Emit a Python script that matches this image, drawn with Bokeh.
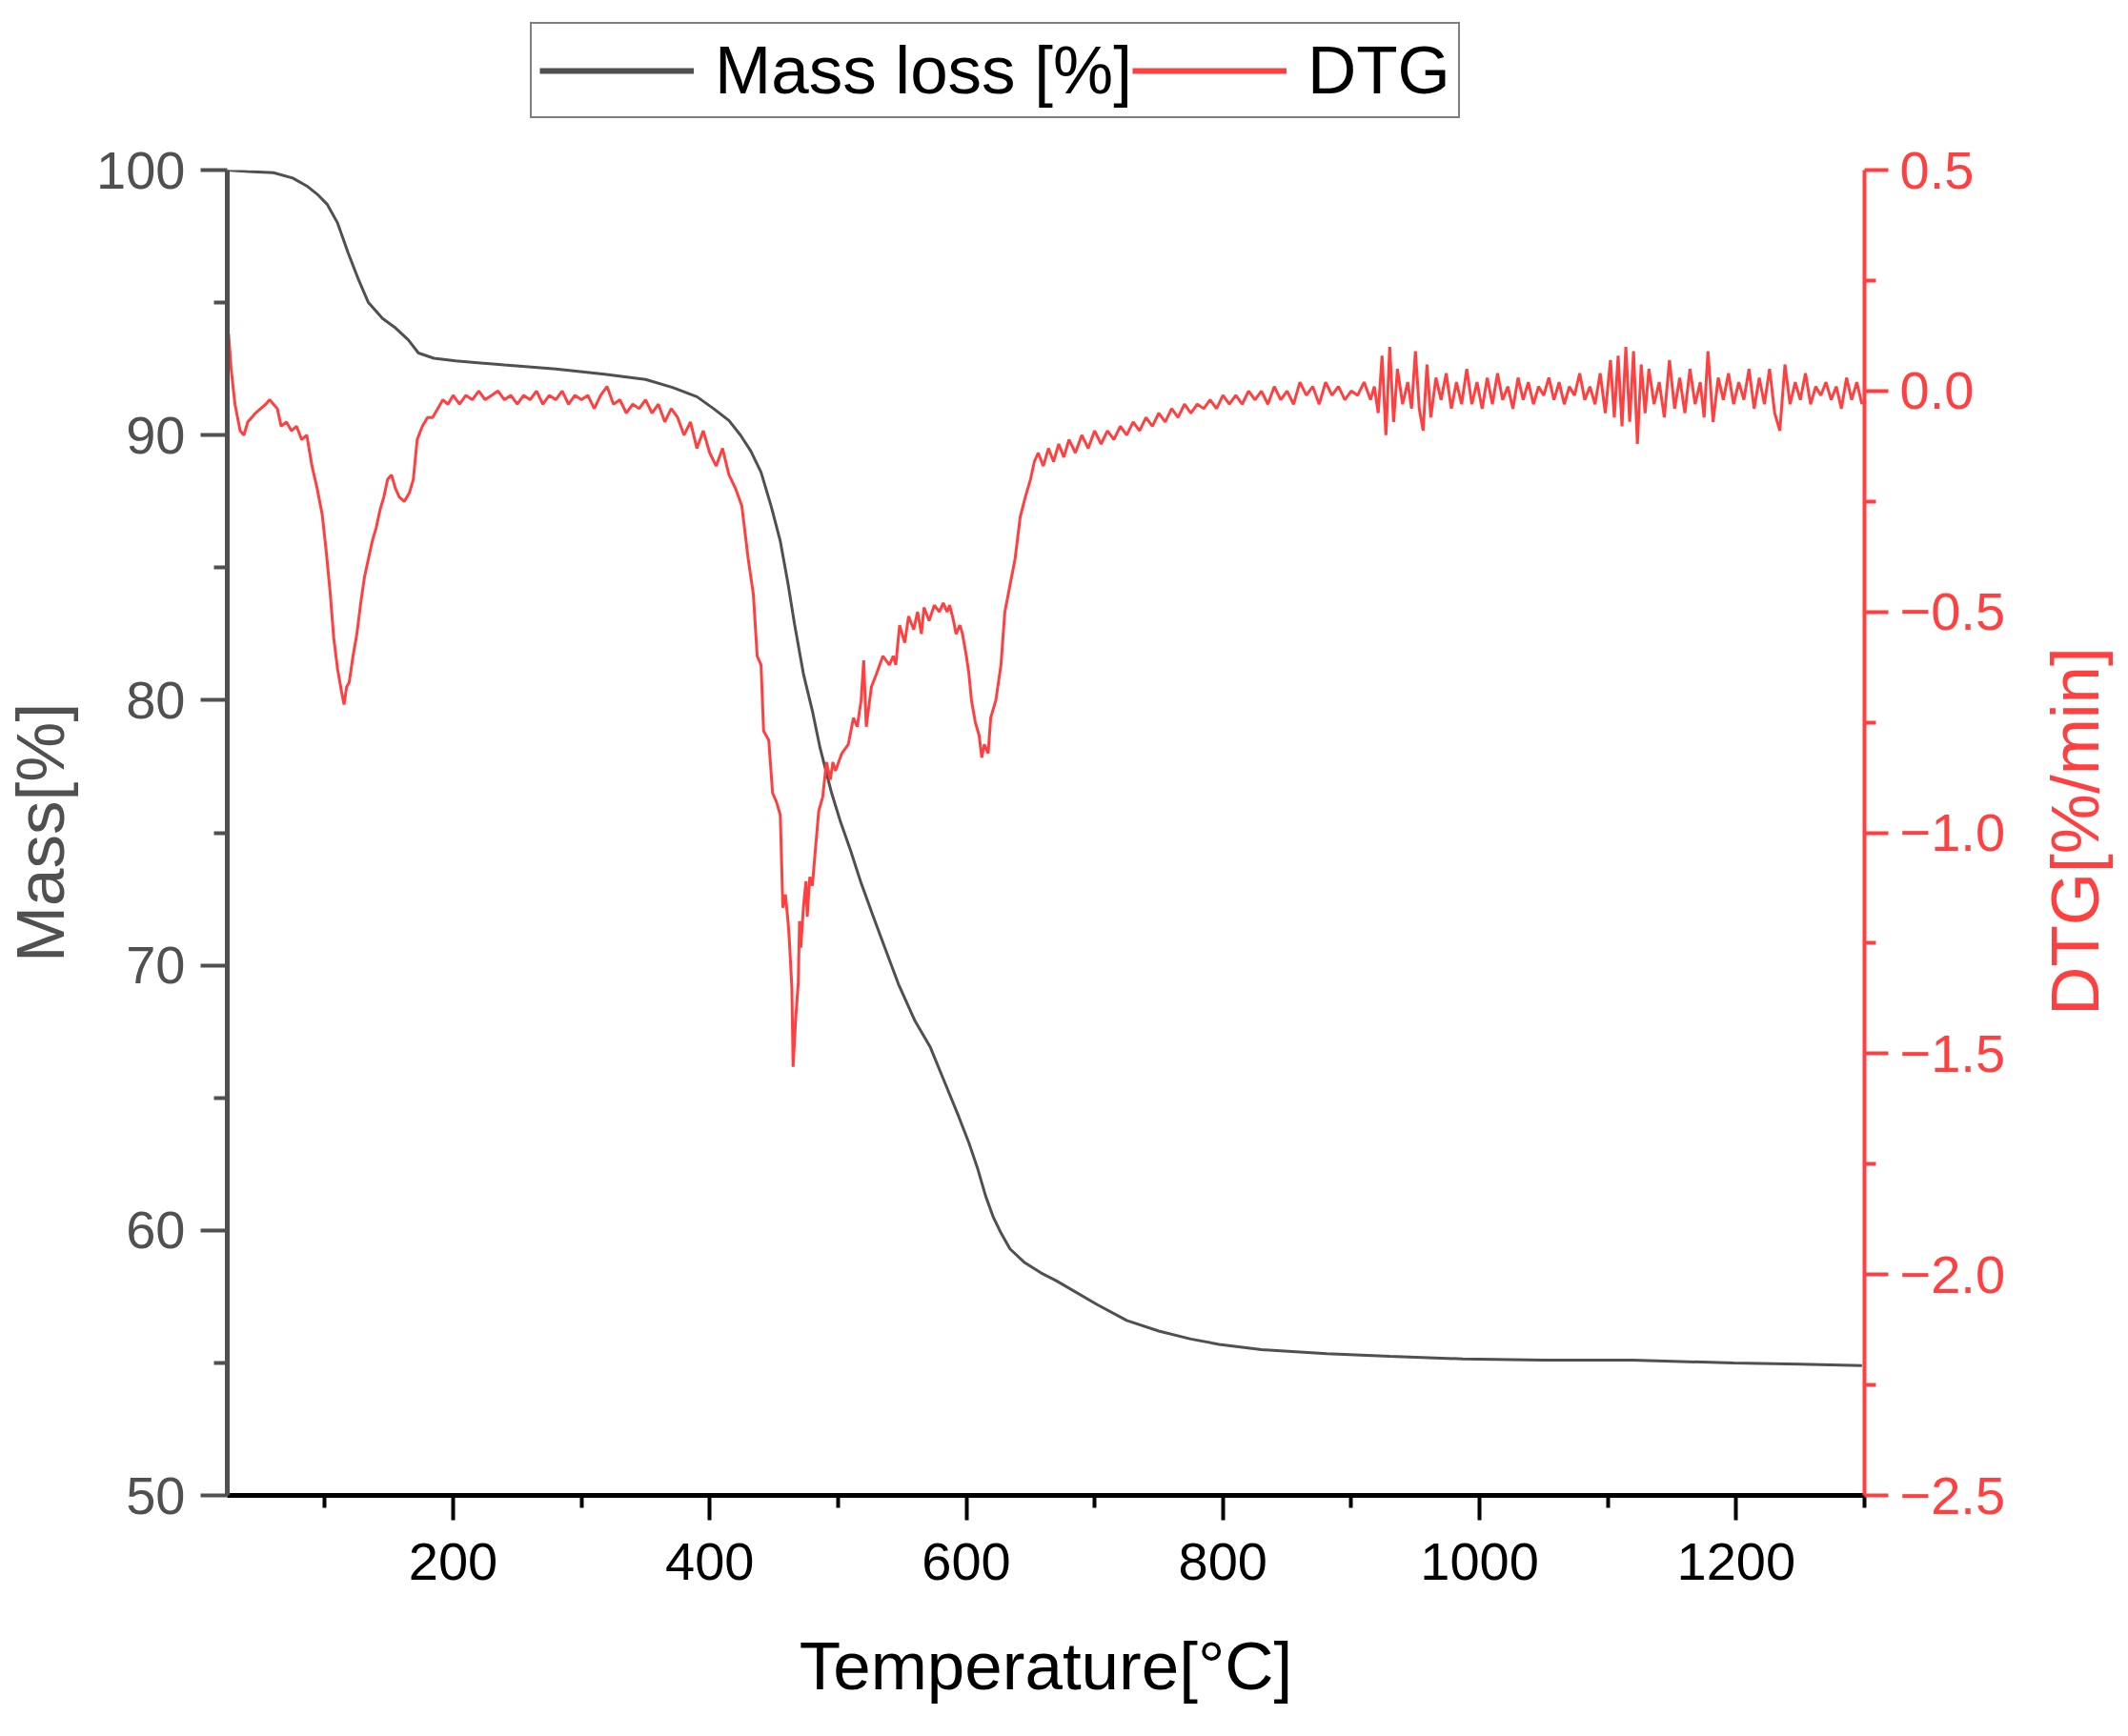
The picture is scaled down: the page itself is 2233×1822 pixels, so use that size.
import math
from bokeh.plotting import figure
from bokeh.layouts import column, row
from bokeh.models import (Range1d, LinearAxis, FixedTicker, Legend, LegendItem, Label)
from bokeh.embed import file_html
from bokeh.resources import INLINE

# ---------------- data ----------------
mass_temp = [24, 40, 60, 75, 86, 95, 102, 110, 118, 126, 134, 145, 155, 165, 173, 185, 202,
             240, 280, 318, 350, 371, 390, 403, 415, 424, 432, 440, 448, 455, 461, 466, 473,
             480, 486, 495, 502, 510, 518, 527, 537, 547, 560, 572, 583, 594, 602, 609, 615,
             621, 627, 634, 645, 658, 670, 702, 725, 750, 775, 797, 830, 881, 930, 987, 1050,
             1119, 1198, 1250, 1298]
mass_value = [100.0, 99.95, 99.9, 99.7, 99.4, 99.05, 98.7, 98.0, 96.9, 95.9, 95.0, 94.4, 94.05,
              93.6, 93.1, 92.9, 92.8, 92.65, 92.5, 92.3, 92.1, 91.8, 91.45, 91.0, 90.55, 90.0,
              89.4, 88.6, 87.3, 86.0, 84.4, 82.9, 81.0, 79.6, 78.2, 76.5, 75.4, 74.3, 73.1,
              71.9, 70.6, 69.3, 67.9, 66.9, 65.6, 64.3, 63.3, 62.3, 61.3, 60.5, 59.9, 59.3,
              58.8, 58.4, 58.1, 57.2, 56.6, 56.2, 55.9, 55.7, 55.5, 55.35, 55.25, 55.15, 55.1,
              55.1, 55.0, 54.95, 54.9]

dtg_temp = [25, 27, 30, 34, 37, 40, 43, 46, 50, 54, 57, 60, 63, 66, 70, 74, 78, 82, 86, 90,
            94, 98, 101, 104, 107, 110, 113, 115, 117, 119, 122, 125, 128, 131, 134, 137, 140,
            143, 146, 149, 152, 155, 158, 162, 166, 169, 172, 176, 180, 184, 188, 192, 196,
            200, 205, 210, 215, 220, 225, 230, 235, 240, 245, 250, 255, 260, 265, 270, 275,
            280, 285, 290, 295, 300, 305, 310, 315, 320, 325, 330, 335, 340, 345, 350, 355,
            360, 365, 370, 375, 380, 385, 390, 395, 400, 405, 410, 415, 420, 425, 430, 434,
            437, 440, 442, 446, 449, 452, 455, 457, 459, 461, 462, 464, 465, 467, 469, 470,
            471, 473, 475, 476, 478, 480, 482, 485, 488, 491, 494, 496, 498, 503, 508, 512,
            515, 518, 520, 522, 526, 530, 535, 540, 543, 545, 548, 552, 555, 559, 562, 565,
            567, 571, 575, 579, 582, 585, 587, 590, 592, 595, 597, 600, 602, 604, 607, 610,
            612, 614, 617, 619, 623, 627, 630, 634, 638, 642, 646, 650, 653, 656, 660, 664,
            668, 672, 676, 680, 685, 690, 695, 700, 705, 710, 715, 720, 725, 730, 735, 740,
            745, 750, 755, 760, 765, 770, 775, 780, 785, 790, 795, 800, 805, 810, 815, 820,
            825, 830, 835, 840, 845, 850, 855, 860, 865, 870, 875, 880, 885, 890, 895, 900,
            905, 910, 915, 918, 921, 924, 927, 930, 933, 936, 940, 944, 947, 950, 953, 956,
            959, 962, 966, 970, 974, 978, 982, 986, 990, 994, 998, 1002, 1006, 1010, 1014,
            1018, 1022, 1026, 1030, 1034, 1038, 1042, 1046, 1050, 1054, 1058, 1062, 1066,
            1070, 1074, 1078, 1082, 1086, 1090, 1094, 1098, 1102, 1105, 1108, 1111, 1114,
            1117, 1120, 1123, 1126, 1129, 1132, 1136, 1140, 1144, 1148, 1152, 1156, 1160,
            1164, 1168, 1172, 1175, 1178, 1182, 1186, 1190, 1194, 1198, 1202, 1206, 1210,
            1214, 1218, 1222, 1226, 1230, 1234, 1238, 1242, 1246, 1250, 1254, 1258, 1262,
            1266, 1270, 1274, 1278, 1282, 1286, 1290, 1294, 1298]
dtg_value = [0.13, 0.05, -0.03, -0.09, -0.10, -0.07, -0.06, -0.05, -0.04, -0.03, -0.02, -0.03,
             -0.04, -0.08, -0.07, -0.09, -0.08, -0.11, -0.10, -0.17, -0.22, -0.28, -0.36,
             -0.45, -0.56, -0.63, -0.68, -0.71, -0.67, -0.66, -0.60, -0.55, -0.48, -0.42,
             -0.38, -0.34, -0.31, -0.27, -0.24, -0.20, -0.19, -0.22, -0.24, -0.25, -0.23,
             -0.20, -0.11, -0.08, -0.06, -0.06, -0.04, -0.02, -0.03, -0.01, -0.03, -0.01,
             -0.02, 0.00, -0.02, -0.01, 0.00, -0.02, -0.01, -0.03, -0.01, -0.02, 0.00, -0.03,
             -0.01, -0.02, 0.00, -0.03, -0.01, -0.02, -0.01, -0.04, -0.01, 0.01, -0.03, -0.02,
             -0.05, -0.03, -0.04, -0.02, -0.05, -0.03, -0.07, -0.04, -0.06, -0.10, -0.07,
             -0.13, -0.09, -0.14, -0.17, -0.13, -0.19, -0.22, -0.26, -0.38, -0.46, -0.60,
             -0.62, -0.77, -0.79, -0.91, -0.93, -0.96, -1.17, -1.14, -1.20, -1.24, -1.35,
             -1.53, -1.42, -1.34, -1.20, -1.26, -1.17, -1.11, -1.19, -1.10, -1.12, -1.05,
             -0.95, -0.92, -0.84, -0.88, -0.84, -0.86, -0.82, -0.80, -0.74, -0.76, -0.70,
             -0.61, -0.76, -0.67, -0.64, -0.60, -0.62, -0.60, -0.62, -0.53, -0.57, -0.51,
             -0.54, -0.50, -0.55, -0.49, -0.52, -0.485, -0.50, -0.48, -0.50, -0.485, -0.52,
             -0.55, -0.53, -0.55, -0.60, -0.64, -0.70, -0.75, -0.78, -0.83, -0.80, -0.82,
             -0.74, -0.70, -0.62, -0.50, -0.44, -0.38, -0.285, -0.24, -0.20, -0.16, -0.14,
             -0.17, -0.13, -0.16, -0.12, -0.15, -0.11, -0.14, -0.10, -0.13, -0.09, -0.12,
             -0.09, -0.11, -0.08, -0.10, -0.07, -0.09, -0.06, -0.08, -0.05, -0.07, -0.04,
             -0.06, -0.03, -0.05, -0.03, -0.04, -0.02, -0.04, -0.01, -0.03, -0.01, -0.03,
             0.00, -0.02, 0.00, -0.03, 0.01, -0.02, 0.00, -0.03, 0.02, -0.01, 0.01, -0.03,
             0.02, -0.01, 0.01, -0.02, 0.00, -0.01, 0.02, -0.02, 0.01, -0.05, 0.08, -0.10,
             0.10, -0.07, 0.05, -0.03, 0.02, -0.04, 0.09, -0.04, -0.09, 0.06, -0.06, 0.03,
             -0.02, 0.04, -0.04, 0.02, -0.03, 0.05, -0.03, 0.02, -0.04, 0.03, -0.03, 0.04,
             -0.02, 0.01, -0.04, 0.03, -0.02, 0.02, -0.03, 0.01, -0.01, 0.03, -0.02, 0.02,
             -0.03, 0.01, -0.01, 0.04, -0.02, 0.01, -0.03, 0.04, -0.05, 0.07, -0.06, 0.08,
             -0.08, 0.10, -0.07, 0.09, -0.12, 0.06, -0.05, 0.05, -0.03, 0.02, -0.06, 0.07,
             -0.04, 0.03, -0.05, 0.05, -0.03, 0.02, -0.06, 0.09, -0.07, 0.03, -0.02, 0.04,
             -0.03, 0.02, -0.02, 0.05, -0.04, 0.03, -0.03, 0.05, -0.05, -0.09, 0.06, -0.03,
             0.02, -0.02, 0.04, -0.03, 0.01, -0.01, 0.02, -0.02, 0.01, -0.04, 0.03, -0.02,
             0.02, -0.03, 0.01]

x_major = [200, 400, 600, 800, 1000, 1200]
x_minor = [100, 300, 500, 700, 900, 1100, 1300]
mass_major = [50, 60, 70, 80, 90, 100]
mass_minor = [55, 65, 75, 85, 95]
dtg_major = [-2.5, -2.0, -1.5, -1.0, -0.5, 0.0, 0.5]
dtg_minor = [-2.25, -1.75, -1.25, -0.75, -0.25, 0.25]
dtg_labels = ["\u22122.5", "\u22122.0", "\u22121.5", "\u22121.0", "\u22120.5", "0.0", "0.5"]
legend_labels = ["Mass loss [%]", "DTG"]
dtg_title = "DTG[%/min]"

GRAY = "#505050"
RED = "#ff4040"
FONT = "Liberation Sans"
W = 2217
TOP_H = 128
MAIN_H = 1672
MAIN_W = 2116
SIDE_W = W - MAIN_W
BORDER_TOP = 50


def bare(fig):
    fig.title.visible = False
    fig.min_border = 0
    fig.min_border_left = 0
    fig.min_border_right = 0
    fig.min_border_top = 0
    fig.min_border_bottom = 0
    fig.outline_line_color = None
    fig.grid.visible = False
    fig.background_fill_color = "white"
    fig.border_fill_color = "white"
    try:
        fig.frame_align = False
    except Exception:
        pass


# ---------------- legend strip (above the chart) ----------------
top = figure(width=W, height=TOP_H, output_backend="svg", toolbar_location=None,
             x_range=Range1d(0, 1), y_range=Range1d(0, 1),
             x_axis_location=None, y_axis_location=None)
bare(top)
lg_mass = top.line([math.nan], [math.nan], line_color=GRAY, line_width=6)
lg_dtg = top.line([math.nan], [math.nan], line_color=RED, line_width=6)

legend = Legend(items=[LegendItem(label=legend_labels[0], renderers=[lg_mass]),
                       LegendItem(label=legend_labels[1], renderers=[lg_dtg])],
                orientation="horizontal", location=(556, 4))
legend.label_text_font = FONT
legend.label_text_font_size = "71px"
legend.label_text_color = "black"
legend.glyph_width = 162
legend.glyph_height = 60
legend.label_standoff = 22
legend.spacing = 0
legend.padding = 8
legend.margin = 0
legend.border_line_color = "black"
legend.border_line_width = 2
legend.background_fill_color = "white"
legend.background_fill_alpha = 1.0
top.add_layout(legend, "center")

# ---------------- main chart ----------------
p = figure(width=MAIN_W, height=MAIN_H, output_backend="svg", toolbar_location=None,
           x_range=Range1d(24, 1300), y_range=Range1d(50, 100))
p.title.visible = False
p.min_border_left = 234
p.min_border_right = MAIN_W - 1956
p.min_border_top = BORDER_TOP
p.min_border_bottom = 231
p.outline_line_color = None
p.xgrid.visible = False
p.ygrid.visible = False
p.background_fill_color = "white"
p.border_fill_color = "white"

p.extra_y_ranges = {"dtg": Range1d(-2.5, 0.5)}

r_mass = p.line(mass_temp, mass_value, line_color=GRAY, line_width=3)
r_dtg = p.line(dtg_temp, dtg_value, line_color=RED, line_width=3, y_range_name="dtg")

# x axis
xa = p.xaxis[0]
xa.ticker = FixedTicker(ticks=x_major, minor_ticks=x_minor)
xa.axis_line_color = "black"
xa.axis_line_width = 5
xa.major_tick_line_color = "black"
xa.major_tick_line_width = 4
xa.minor_tick_line_color = "black"
xa.minor_tick_line_width = 4
xa.major_tick_out = 26
xa.major_tick_in = 0
xa.minor_tick_out = 13
xa.minor_tick_in = 0
xa.major_label_text_font = FONT
xa.major_label_text_font_size = "56px"
xa.major_label_text_color = "black"
xa.major_label_standoff = 24
xa.axis_label = "Temperature[\u00b0C]"
xa.axis_label_text_font = FONT
xa.axis_label_text_font_size = "71px"
xa.axis_label_text_font_style = "normal"
xa.axis_label_text_color = "black"
xa.axis_label_standoff = 48

# left axis
ya = p.yaxis[0]
ya.ticker = FixedTicker(ticks=mass_major, minor_ticks=mass_minor)
ya.axis_line_color = GRAY
ya.axis_line_width = 5
ya.major_tick_line_color = GRAY
ya.major_tick_line_width = 4
ya.minor_tick_line_color = GRAY
ya.minor_tick_line_width = 4
ya.major_tick_out = 28
ya.major_tick_in = 0
ya.minor_tick_out = 14
ya.minor_tick_in = 0
ya.major_label_text_font = FONT
ya.major_label_text_font_size = "56px"
ya.major_label_text_color = GRAY
ya.major_label_standoff = 16
ya.axis_label = "Mass[%]"
ya.axis_label_text_font = FONT
ya.axis_label_text_font_size = "71px"
ya.axis_label_text_font_style = "normal"
ya.axis_label_text_color = GRAY
ya.axis_label_standoff = 16

# right axis
ra = LinearAxis(y_range_name="dtg",
                ticker=FixedTicker(ticks=dtg_major, minor_ticks=dtg_minor))
ra.major_label_overrides = {v: s for v, s in zip(dtg_major, dtg_labels)}
ra.axis_line_color = RED
ra.axis_line_width = 4
ra.major_tick_line_color = RED
ra.major_tick_line_width = 4
ra.minor_tick_line_color = RED
ra.minor_tick_line_width = 4
ra.major_tick_out = 25
ra.major_tick_in = 0
ra.minor_tick_out = 12
ra.minor_tick_in = 0
ra.major_label_text_font = FONT
ra.major_label_text_font_size = "56px"
ra.major_label_text_color = RED
ra.major_label_standoff = 12
p.add_layout(ra, "right")

# ---------------- right-hand title strip ----------------
side = figure(width=SIDE_W, height=MAIN_H, output_backend="svg", toolbar_location=None,
              x_range=Range1d(0, SIDE_W), y_range=Range1d(0, MAIN_H),
              x_axis_location=None, y_axis_location=None)
bare(side)
side.add_layout(Label(x=61, y=MAIN_H - (BORDER_TOP + 694), text=dtg_title, angle=math.pi / 2,
                      text_align="center", text_baseline="middle",
                      text_font=FONT, text_font_size="71px", text_color=RED))

layout = column(top, row(p, side, spacing=0), spacing=0)
open("out.html", "w").write(file_html(layout, INLINE))
